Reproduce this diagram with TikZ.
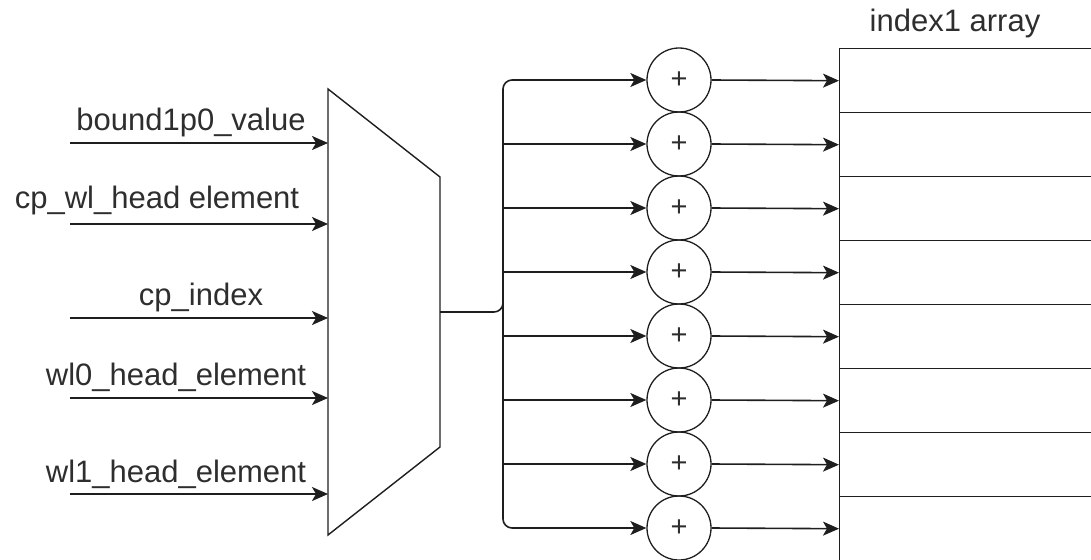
\documentclass[tikz,border=0pt]{standalone}
\usepackage{fontspec}
\setmainfont{Liberation Sans}
\usetikzlibrary{arrows.meta}
\definecolor{txt}{HTML}{2E2E2E}
\definecolor{ln}{HTML}{1E1E1E}
\begin{document}
\begin{tikzpicture}[x=1pt,y=-1pt,
  line width=1.6pt, draw=ln,
  arr/.style={draw=ln, line width=1.6pt, -{Stealth[length=16pt,width=14pt,inset=4pt]}},
  lbl/.style={text=txt, font=\fontsize{31}{36}\selectfont, inner sep=0pt, anchor=base},
  adder/.style={circle, draw=ln, line width=1.3pt, minimum size=64pt, inner sep=0pt, text=txt, font=\fontsize{29}{32}\selectfont},
  cell/.style={rectangle, draw=ln, line width=1.4pt, minimum width=320pt, minimum height=64pt, inner sep=0pt, anchor=north west}]
\useasboundingbox (0,0) rectangle (1091,559);
\clip (0,0) rectangle (1091,559);
% multiplexer
\draw[line width=1.4pt] (328,89) -- (440,177) -- (440,447) -- (328,535) -- cycle;
\coordinate (mL) at (328,312);
\coordinate (mo) at (440,312);
\coordinate (bj) at (503,312);
\coordinate (bj2) at (503,296);
% input labels
\node[lbl] (l1) at (191,130) {bound1p0\_value};
\node[lbl] (l2) at (157,208) {cp\_wl\_head element};
\node[lbl] (l3) at (201,305) {cp\_index};
\node[lbl] (l4) at (176,385) {wl0\_head\_element};
\node[lbl] (l5) at (176,482) {wl1\_head\_element};
% inputs
\coordinate (s1) at (70,143);
\coordinate (s2) at (70,224);
\coordinate (s3) at (70,318);
\coordinate (s4) at (70,398);
\coordinate (s5) at (70,494);
\foreach \i in {1,...,5} \draw[arr] (s\i) -- (s\i -| mL);
% adders and array cells
\foreach \i in {1,...,8} {
  \node[adder] (c\i) at (679,{80+64*(\i-1)}) {+};
  \node[cell] (r\i) at (839,{48+64*(\i-1)}) {};
}
\node[lbl] (title) at (955,32) {index1 array};
% bus
\draw[arr, rounded corners=9pt] (mo) -- (bj) |- (c1.west);
\draw[arr, rounded corners=9pt] (bj2) |- (c8.west);
\foreach \i in {2,...,7} \draw[arr] (c\i.west -| bj) -- (c\i.west);
% outputs
\foreach \i in {1,...,8} \draw[arr] (c\i.east) -- (r\i.west);
\end{tikzpicture}
\end{document}
